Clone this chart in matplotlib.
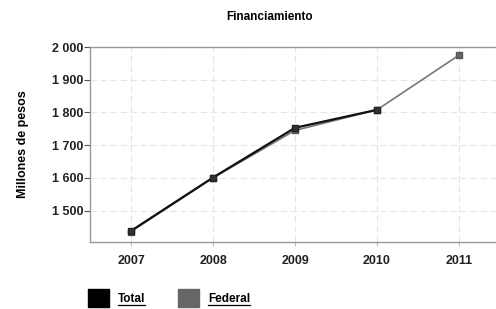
import matplotlib
matplotlib.use('Agg')
import matplotlib.pyplot as plt
import numpy as np

plt.rcParams['font.family'] = ['Liberation Sans', 'DejaVu Sans']

years = [2007, 2008, 2009, 2010, 2011]
total = [1438, 1601, 1753, 1808, np.nan]
federal = [1436, 1600, 1745, 1808, 1975]
yticks = [1500, 1600, 1700, 1800, 1900, 2000]
ytick_labels = ['1 500', '1 600', '1 700', '1 800', '1 900', '2 000']

fig = plt.figure(figsize=(4.96, 3.09), dpi=100)
ax = fig.add_axes([90 / 496, 1 - 242 / 309, 410 / 496, 195 / 309])

c_total = '#111111'
c_fed = '#777777'

ax.plot(years, federal, color=c_fed, lw=1.2, marker='s', ms=5,
        mfc='#666666', mec='#555555', zorder=3)
ax.plot(years, total, color=c_total, lw=1.6, marker='s', ms=5,
        mfc='#333333', mec='#222222', zorder=4)

ax.set_xlim(2006.5, 2011.5)
ax.set_ylim(1404, 2000)
ax.set_xticks(years)
ax.set_xticklabels([str(y) for y in years])
ax.set_yticks(yticks)
ax.set_yticklabels(ytick_labels)

ax.grid(True, color='#e6e6e6', linestyle=(0, (6, 3)), lw=0.8)
ax.set_axisbelow(True)
for s in ['left', 'bottom', 'top']:
    ax.spines[s].set_color('#999999')
    ax.spines[s].set_linewidth(1.0)
ax.spines['right'].set_visible(False)
ax.tick_params(axis='y', length=4, color='#555555', labelsize=9, pad=1)
ax.tick_params(axis='x', length=3, color='#bbbbbb', labelsize=9, pad=6)
for lbl in ax.get_xticklabels() + ax.get_yticklabels():
    lbl.set_fontweight('bold')
    lbl.set_color('#222222')

ax.set_ylabel('Millones de pesos', fontsize=9, fontweight='bold', labelpad=16)
fig.text(270 / 496, 1 - 17 / 309, 'Financiamiento', ha='center', va='center',
         fontsize=8.5, fontweight='bold')

# leyenda
fig.patches.append(plt.Rectangle((88 / 496, 1 - 307 / 309), 21 / 496, 18 / 309,
                                 transform=fig.transFigure, color='#000000'))
fig.patches.append(plt.Rectangle((178 / 496, 1 - 307 / 309), 21 / 496, 18 / 309,
                                 transform=fig.transFigure, color='#666666'))
t1 = fig.text(118 / 496, 1 - 299 / 309, 'Total', fontsize=8.5, fontweight='bold',
              va='center', ha='left')
t2 = fig.text(208 / 496, 1 - 299 / 309, 'Federal', fontsize=8.5, fontweight='bold',
              va='center', ha='left')
fig.canvas.draw()
r = fig.canvas.get_renderer()
for t in (t1, t2):
    bb = t.get_window_extent(r).transformed(fig.transFigure.inverted())
    fig.add_artist(plt.Line2D([bb.x0, bb.x1], [1 - 305 / 309] * 2,
                              transform=fig.transFigure, color='black', lw=0.9))

fig.savefig('out.png', dpi=100)
